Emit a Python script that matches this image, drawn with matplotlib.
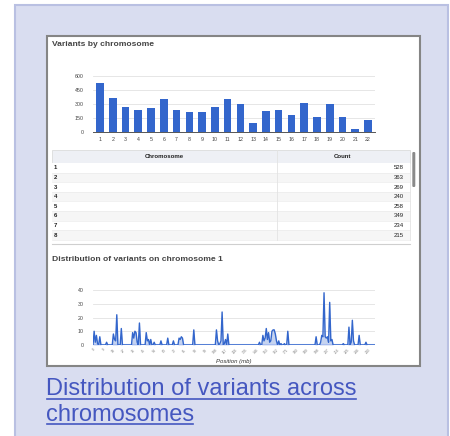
"""
Pannello 'Distribution of variants across chromosomes':
istogramma per cromosoma, tabella e profilo del cromosoma 1.
"""

import matplotlib
matplotlib.use("Agg")
import matplotlib.pyplot as plt
from matplotlib.patches import Rectangle, FancyBboxPatch
import numpy as np

plt.rcParams["font.family"] = ["Liberation Sans", "DejaVu Sans"]

W, H = 450, 436

# --- dati ---------------------------------------------------------------
chromosomes = ["1", "2", "3", "4", "5", "6", "7", "8", "9", "10", "11",
               "12", "13", "14", "15", "16", "17", "18", "19", "20", "21", "22"]
variant_counts = [528, 363, 269, 240, 258, 349, 234, 215, 210, 265, 352,
                  296, 98, 222, 240, 182, 310, 157, 297, 158, 33, 133]
bar_ticks = [0, 150, 300, 450, 600]

# varianti per mb sul cromosoma 1 (0..249)
chr1_counts = [
    0, 10, 2, 7, 1, 0, 6, 0, 0, 0, 0, 0, 2, 0, 0, 0, 0, 0, 8, 4, 3, 22, 0, 0, 0,
    12, 0, 0, 0, 0, 0, 0, 0, 0, 0, 9, 5, 10, 9, 2, 0, 16, 0, 0, 0, 0, 0, 9, 3, 4,
    0, 4, 0, 0, 2, 0, 0, 0, 0, 0, 3, 0, 0, 0, 0, 0, 5, 0, 0, 0, 0, 3, 0, 0, 0,
    0, 5, 4, 6, 5, 0, 0, 0, 0, 0, 0, 0, 0, 0, 11, 0, 0, 0, 0, 0, 0, 0, 0, 0, 0,
    0, 0, 0, 0, 0, 0, 0, 0, 0, 11, 3, 0, 1, 3, 24, 0, 1, 4, 0, 8, 0, 0, 0, 0, 0,
    0, 0, 0, 0, 0, 0, 0, 0, 0, 0, 0, 0, 0, 0, 0, 0, 0, 0, 0, 0, 0, 0, 2, 0, 0,
    7, 3, 5, 12, 4, 9, 2, 3, 10, 11, 11, 8, 3, 0, 3, 0, 1, 0, 0, 1, 0, 0, 10, 0, 0,
    0, 0, 0, 0, 0, 0, 0, 0, 0, 0, 0, 0, 0, 0, 0, 0, 0, 0, 0, 0, 0, 0, 6, 0, 0,
    0, 2, 7, 6, 38, 6, 5, 6, 2, 31, 3, 4, 0, 0, 0, 0, 0, 0, 0, 0, 0, 1, 0, 0, 0,
    0, 13, 0, 2, 18, 3, 0, 0, 0, 0, 7, 0, 0, 0, 0, 0, 2, 0, 0, 0, 0, 0, 0, 0, 0,
]
chr1_tick_pos = [0, 9, 18, 27, 36, 45, 54, 63, 72, 81, 90, 99, 108, 117,
                 126, 135, 144, 153, 162, 171, 180, 189, 198, 207, 216, 225,
                 234, 243]
chr1_ticks = [0, 10, 20, 30, 40]
table_rows = 8

BLUE = "#3366cc"
GREY_TXT = "#444444"


def px_box(l, t, r, b):
    return [l / W, 1 - b / H, (r - l) / W, (b - t) / H]


fig = plt.figure(figsize=(W / 100, H / 100), dpi=100)
bg = fig.add_axes([0, 0, 1, 1])
bg.set_xlim(0, W)
bg.set_ylim(H, 0)
bg.axis("off")

# cornice esterna e scheda bianca
bg.add_patch(Rectangle((15, 5), 433, 440, facecolor="#d9ddf0",
                       edgecolor="#b9c0e2", lw=1.5))
bg.add_patch(Rectangle((47, 36), 373, 330, facecolor="white",
                       edgecolor="#858585", lw=1.5))

bg.text(52, 45, "Variants by chromosome", fontsize=6.1, weight="bold",
        color=GREY_TXT, va="center")
bg.text(52, 259, "Distribution of variants on chromosome 1", fontsize=6.1,
        weight="bold", color=GREY_TXT, va="center")

# tabella
bg.add_patch(Rectangle((52, 150), 358, 13, facecolor="#eef0f5",
                       edgecolor="#d6d6d6", lw=0.5))
bg.text(164, 156.5, "Chromosome", fontsize=4.3, weight="bold", color="#222",
        ha="center", va="center")
bg.text(343, 156.5, "Count", fontsize=4.3, weight="bold", color="#222",
        ha="center", va="center")
row_h = 9.6
for i in range(table_rows):
    top = 163 + i * row_h
    bg.add_patch(Rectangle((52, top), 358, row_h,
                           facecolor="white" if i % 2 == 0 else "#f6f6f6",
                           edgecolor="none"))
    bg.plot([52, 410], [top + row_h, top + row_h], color="#ebebeb", lw=0.5)
    bg.text(54, top + row_h / 2, chromosomes[i], fontsize=4.3, weight="bold",
            color="#222", va="center")
    bg.text(404, top + row_h / 2, str(variant_counts[i]), fontsize=4.3,
            color="#222", ha="right", va="center")
bg.plot([277, 277], [150, 240], color="#e3e3e3", lw=0.6)
bg.plot([410, 410], [163, 240], color="#e3e3e3", lw=0.6)
bg.add_patch(FancyBboxPatch((412.3, 152), 3, 35,
                            boxstyle="round,pad=0,rounding_size=1.2",
                            facecolor="#8a8a8a", edgecolor="none"))
bg.plot([52, 410], [244, 244], color="#cfcfcf", lw=0.8)

# link in fondo
LINK = "#4557c0"
link1 = bg.text(46, 395, "Distribution of variants across", fontsize=17,
                color=LINK, va="baseline")
link2 = bg.text(46, 421, "chromosomes", fontsize=17, color=LINK,
                va="baseline")
renderer = fig.canvas.get_renderer()
for t, y in [(link1, 399), (link2, 423.5)]:
    ext = t.get_window_extent(renderer)
    bg.plot([ext.x0 + 1, ext.x1 - 1], [y, y], color=LINK, lw=1.2)

# istogramma
ax = fig.add_axes(px_box(93, 76, 375, 132))
x = np.arange(1, len(variant_counts) + 1)
ax.bar(x, variant_counts, width=0.6, color=BLUE, zorder=3)
ax.set_xlim(0.45, len(variant_counts) + 0.55)
ax.set_ylim(0, 600)
ax.set_yticks(bar_ticks)
ax.set_xticks(x)
ax.set_xticklabels(chromosomes)
ax.grid(axis="y", color="#e2e2e2", lw=0.6, zorder=0)
for s in ["top", "right", "left"]:
    ax.spines[s].set_visible(False)
ax.spines["bottom"].set_color("#555")
ax.spines["bottom"].set_linewidth(0.7)
ax.tick_params(axis="both", length=0, labelsize=3.8, labelcolor=GREY_TXT)
ax.tick_params(axis="y", pad=6.5)
ax.tick_params(axis="x", pad=3.5)
ax.set_facecolor("none")

# profilo cromosoma 1
ax2 = fig.add_axes(px_box(93, 290, 375, 345))
pos = np.arange(len(chr1_counts))
ax2.fill_between(pos, chr1_counts, color=BLUE, alpha=0.28, lw=0, zorder=2)
ax2.plot(pos, chr1_counts, color=BLUE, lw=1.0, zorder=3)
ax2.axhline(0, color="#a9bdf0", lw=2.2, zorder=2.5)
ax2.set_xlim(0, len(chr1_counts) - 1)
ax2.set_ylim(0, 40)
ax2.set_yticks(chr1_ticks)
ax2.set_xticks(chr1_tick_pos)
ax2.set_xticklabels([str(p) for p in chr1_tick_pos], rotation=45,
                    ha="right", rotation_mode="anchor")
ax2.grid(axis="y", color="#e2e2e2", lw=0.6, zorder=0)
for s in ax2.spines.values():
    s.set_visible(False)
ax2.tick_params(axis="both", length=0, labelcolor=GREY_TXT)
ax2.tick_params(axis="y", labelsize=3.8, pad=6.5)
ax2.tick_params(axis="x", labelsize=2.4, pad=2, labelcolor="#777")
ax2.set_xlabel("Position (mb)", fontsize=4.3, style="italic", color="#333",
               labelpad=3)
ax2.set_facecolor("none")

fig.savefig("out.png", dpi=100)
